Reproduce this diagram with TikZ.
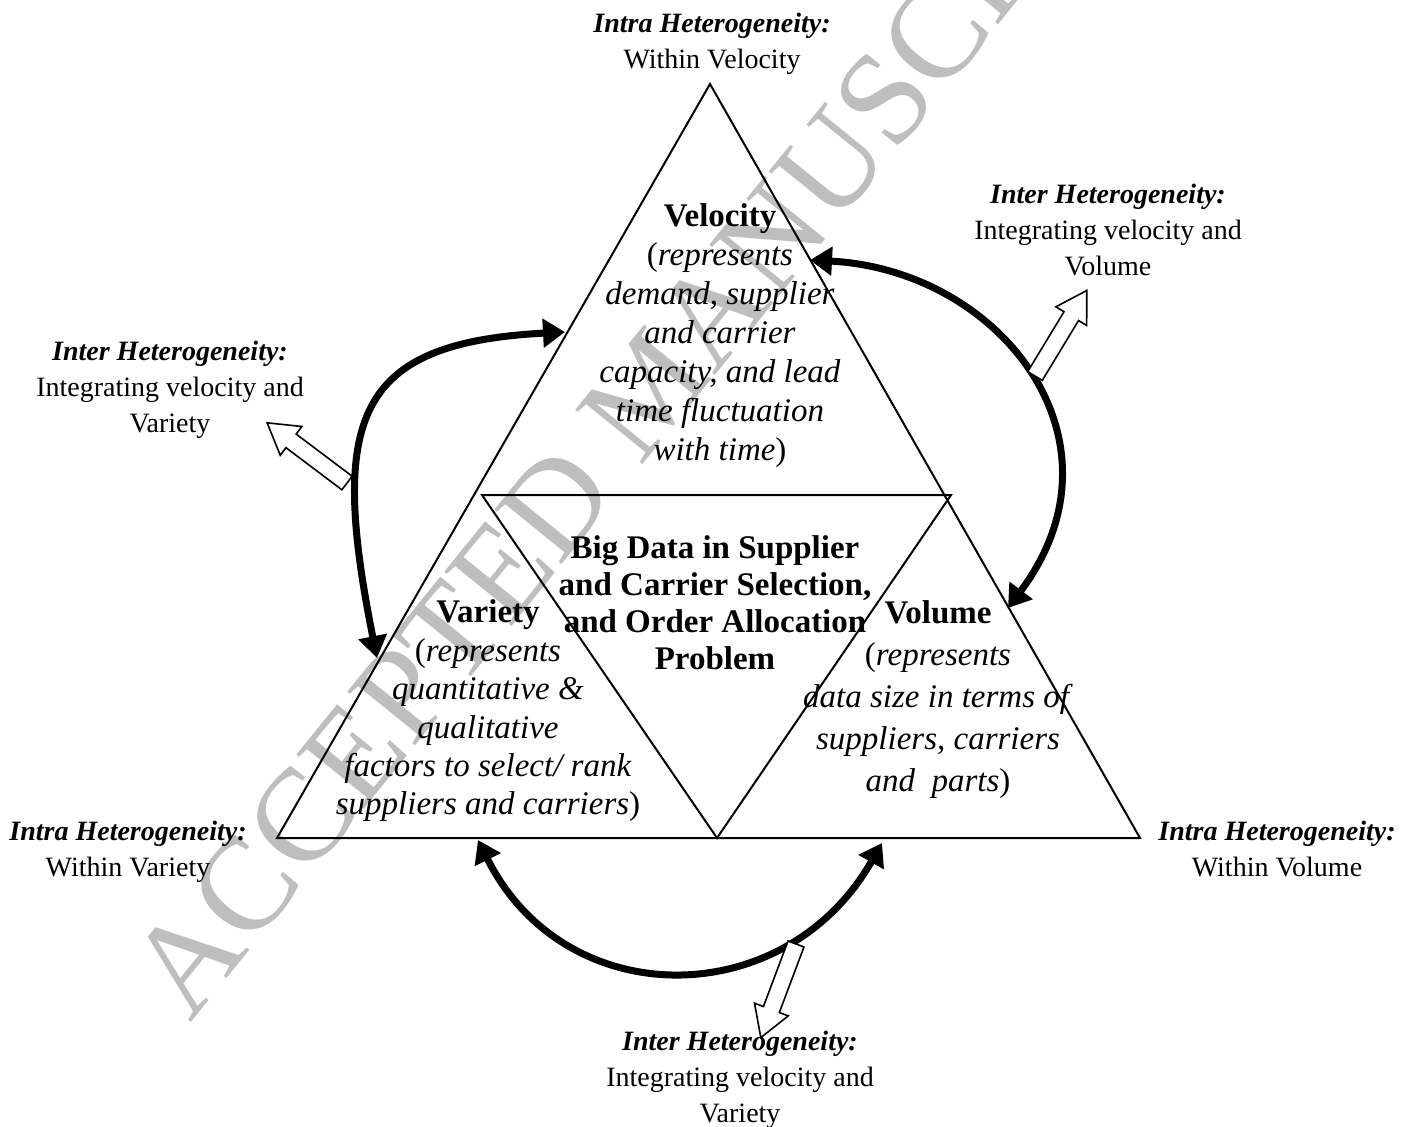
\documentclass[tikz,border=0pt]{standalone}
\usepackage{fontspec}
\setmainfont{Liberation Serif}
\usetikzlibrary{arrows.meta}
\definecolor{cwater}{HTML}{BEBEBE}
\tikzset{
  every picture/.style={line width=1pt},
  label/.style={align=center, inner sep=0pt, font=\fontsize{14}{18}\selectfont},
  body/.style={align=center, inner sep=0pt, font=\fontsize{16.5}{#1}\selectfont},
  body/.default=19.5pt,
  swing/.style={{Triangle[length=11pt, width=14pt]}-{Triangle[length=11pt, width=14pt]}, line width=3.5pt},
  hollow/.style={draw, fill=white, line width=0.8pt, line join=miter},
  watermark/.style={text=cwater, inner sep=0pt, font=\fontsize{66}{66}\selectfont},
}
% open block arrow of length 100, from its base point (#1) towards angle #2
\newcommand{\hollowarrow}[2]{%
  \draw[hollow, shift={(#1)}, rotate=#2] (0,-8.5) -- (70,-8.5) -- (70,-18) -- (100,0) -- (70,18) -- (70,8.5) -- (0,8.5) -- cycle;}
\newcommand{\hetero}[1]{\textbf{\textit{#1 Heterogeneity:}}}

\begin{document}
\begin{tikzpicture}[x=0.5pt, y=-0.5pt]
  \useasboundingbox (0,0) rectangle (1414,1126);
  \node[watermark, rotate=51, anchor=base west] (wm) at (190,1024) {ACCEPTED MANUSCRIPT};

  % outer triangle and the inverted one inside it
  \coordinate (apex) at (710,84);
  \coordinate (bl) at (277,838);
  \coordinate (br) at (1140,838);
  \coordinate (il) at (482,495);
  \coordinate (ir) at (951,495);
  \coordinate (ib) at (717,838);
  \draw (apex) -- (bl) -- (br) -- cycle;
  \draw (il) -- (ir) -- (ib) -- cycle;

  \node[body] (vel) at (720,336) {\textbf{Velocity}\\(\textit{represents}\\\textit{demand, supplier}\\\textit{and carrier}\\\textit{capacity, and lead}\\\textit{time fluctuation}\\\textit{with time})};
  \node[body=18.5pt] (big) at (715,603) {\textbf{Big Data in Supplier}\\\textbf{and Carrier Selection,}\\\textbf{and Order Allocation}\\\textbf{Problem}};
  \node[body=19.2pt] (var) at (488,711) {\textbf{Variety}\\(\textit{represents}\\\textit{quantitative \&}\\\textit{qualitative}\\\textit{factors to select/ rank}\\\textit{suppliers and carriers})};
  \node[body=21pt] (vol) at (938,700) {\textbf{Volume}\\(\textit{represents}\\\textit{data size in terms of}\\\textit{suppliers, carriers}\\\textit{and\ \ parts})};

  \node[label] (intravel) at (712,44) {\hetero{Intra}\\Within Velocity};
  \node[label] (intravar) at (128,852) {\hetero{Intra}\\Within Variety};
  \node[label] (intravol) at (1277,849) {\hetero{Intra}\\Within Volume};
  \node[label] (intervol) at (1108,230) {\hetero{Inter}\\Integrating velocity and\\Volume};
  \node[label] (intervar) at (170,390) {\hetero{Inter}\\Integrating velocity and\\Variety};
  \node[label] (interbot) at (740,1080) {\hetero{Inter}\\Integrating velocity and\\Variety};

  % arrow ends on the triangle sides
  \coordinate (velL) at (565,332);
  \coordinate (varT) at (377,658);
  \coordinate (velR) at (810,260);
  \coordinate (volT) at (1008,608);
  \coordinate (varB) at (478,840);
  \coordinate (volB) at (882,843);
  \draw[swing] (varT) .. controls (329,418) and (355,343) .. (velL);
  \draw[swing] (velR) .. controls (1000,270) and (1134,440) .. (volT);
  \draw[swing] (varB) .. controls (565,1014) and (785,1013) .. (volB);

  % open arrows pointing at the labels
  \coordinate (hl) at (347,483);
  \coordinate (hr) at (1035,376);
  \coordinate (hb) at (796,944);
  \hollowarrow{hl}{143}
  \hollowarrow{hr}{58.8}
  \hollowarrow{hb}{-110.6}
\end{tikzpicture}
\end{document}
